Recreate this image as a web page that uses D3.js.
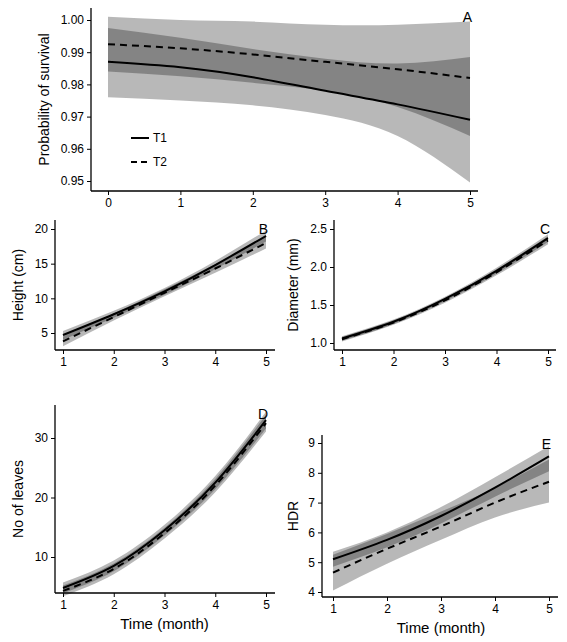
<!DOCTYPE html>
<html><head><meta charset="utf-8">
<script src="https://cdn.jsdelivr.net/npm/d3@7"></script>
<style>body{margin:0;background:#fff}text{font-family:Arial,"Liberation Sans",sans-serif;fill:#000}</style>
</head><body><div id="chart"></div>
<script>
var W = 567, H = 642;

// panel A: survival, months 0..5
var monthsA = [0, 1, 2, 3, 4, 5];
var survT1 = [0.987, 0.9853, 0.9822, 0.978, 0.9738, 0.969];
var survT1lo = [0.976, 0.975, 0.9735, 0.9705, 0.964, 0.9495];
var survT1hi = [0.9975, 0.9945, 0.991, 0.988, 0.9865, 0.9885];
var survT2 = [0.9925, 0.9912, 0.9893, 0.987, 0.9847, 0.982];
var survT2lo = [0.984, 0.9825, 0.9805, 0.978, 0.973, 0.964];
var survT2hi = [1.001, 1.0, 0.9995, 0.9985, 0.9985, 0.9995];

var months = [1, 2, 3, 4, 5];
var hT1 = [4.7, 7.7, 11.0, 14.8, 19.0], hT1lo = [4.0, 7.2, 10.5, 14.2, 18.2], hT1hi = [5.3, 8.2, 11.5, 15.4, 19.8];
var hT2 = [3.8, 7.3, 10.8, 14.3, 18.0], hT2lo = [3.1, 6.8, 10.3, 13.7, 17.2], hT2hi = [4.5, 7.8, 11.3, 14.9, 18.8];
var dT1 = [1.06, 1.28, 1.58, 1.95, 2.38], dT1lo = [1.03, 1.25, 1.55, 1.91, 2.33], dT1hi = [1.09, 1.31, 1.61, 1.99, 2.43];
var dT2 = [1.05, 1.27, 1.56, 1.93, 2.35], dT2lo = [1.02, 1.24, 1.53, 1.89, 2.30], dT2hi = [1.08, 1.30, 1.59, 1.97, 2.40];
var lT1 = [4.8, 8.5, 14.5, 22.5, 33.0], lT1lo = [3.9, 7.6, 13.6, 21.4, 31.6], lT1hi = [5.7, 9.4, 15.4, 23.6, 34.4];
var lT2 = [4.3, 8.0, 14.0, 22.0, 32.5], lT2lo = [3.4, 7.1, 13.1, 20.9, 31.1], lT2hi = [5.2, 8.9, 14.9, 23.1, 33.9];
var eT1 = [5.1, 5.75, 6.55, 7.5, 8.55], eT1lo = [4.85, 5.5, 6.3, 7.2, 8.05], eT1hi = [5.35, 6.0, 6.85, 7.85, 8.9];
var eT2 = [4.65, 5.45, 6.2, 7.0, 7.7], eT2lo = [4.05, 4.95, 5.75, 6.5, 7.0], eT2hi = [5.25, 5.95, 6.7, 7.5, 8.45];

var svg = d3.select("#chart").append("svg").attr("width", W).attr("height", H);

function panel(o) {
  var x = d3.scaleLinear().domain(o.xd).range(o.xr);
  var y = d3.scaleLinear().domain(o.yd).range(o.yr);
  var g = svg.append("g");
  var curve = d3.curveNatural;
  var area = d3.area().curve(curve).x(function(d) { return x(d[0]); })
    .y0(function(d) { return y(d[1]); }).y1(function(d) { return y(d[2]); });
  var line = d3.line().curve(curve).x(function(d) { return x(d[0]); }).y(function(d) { return y(d[1]); });
  o.series.forEach(function(s) {
    g.append("path").attr("d", area(o.xs.map(function(v, i) { return [v, s.lo[i], s.hi[i]]; })))
      .attr("fill", "#000").attr("fill-opacity", 0.28);
  });
  o.series.forEach(function(s, k) {
    g.append("path").attr("d", line(o.xs.map(function(v, i) { return [v, s.v[i]]; })))
      .attr("fill", "none").attr("stroke", "#000").attr("stroke-width", 2)
      .attr("stroke-dasharray", k ? "7,5" : null);
  });
  var xa = g.append("g").attr("transform", "translate(0," + o.axisY + ")")
    .call(d3.axisBottom(x).tickValues(o.xticks).tickFormat(d3.format("d")).tickSize(4).tickSizeOuter(0));
  var ya = g.append("g").attr("transform", "translate(" + o.axisX + ",0)")
    .call(d3.axisLeft(y).tickValues(o.yticks).tickFormat(o.fmt).tickSize(4).tickSizeOuter(0));
  [xa, ya].forEach(function(a) {
    a.selectAll("text").style("font-size", "12px");
    a.select(".domain").attr("stroke-width", 1.3);
  });
  // extend axis lines like ggplot
  xa.select(".domain").attr("d", "M" + o.axisX + ",0H" + o.xEnd);
  ya.select(".domain").attr("d", "M0," + o.yTop + "V" + o.axisY);
  g.append("text").attr("x", o.xr[1] + 2).attr("y", o.yTop + 14).attr("text-anchor", "end")
    .style("font-size", "14px").text(o.tag);
  g.append("text").attr("transform", "translate(" + (o.axisX - o.ylabOff) + "," + ((o.yTop + o.axisY) / 2) + ") rotate(-90)")
    .attr("text-anchor", "middle").style("font-size", "14px").text(o.ylab);
  if (o.xlab) g.append("text").attr("x", (o.xr[0] + o.xr[1]) / 2).attr("y", o.axisY + 36)
    .attr("text-anchor", "middle").style("font-size", "15px").text(o.xlab);
  return { x: x, y: y, g: g };
}

var A = panel({ xd: [0, 5], xr: [108, 470], yd: [0.95, 1.0], yr: [181, 20], xs: monthsA,
  series: [{ v: survT1, lo: survT1lo, hi: survT1hi }, { v: survT2, lo: survT2lo, hi: survT2hi }],
  axisY: 191, axisX: 91, xEnd: 478, yTop: 8, xticks: [0, 1, 2, 3, 4, 5],
  yticks: [0.95, 0.96, 0.97, 0.98, 0.99, 1.0], fmt: d3.format(".2f"), tag: "A", ylab: "Probability of survival", ylabOff: 42 });

// legend
var leg = A.g.append("g").attr("transform", "translate(131,138)");
["T1", "T2"].forEach(function(t, i) {
  leg.append("line").attr("x1", 0).attr("x2", 18).attr("y1", i * 24).attr("y2", i * 24)
    .attr("stroke", "#000").attr("stroke-width", 2).attr("stroke-dasharray", i ? "6,4" : null);
  leg.append("text").attr("x", 22).attr("y", i * 24 + 4).style("font-size", "12px").text(t);
});

panel({ xd: [1, 5], xr: [63, 266], yd: [5, 20], yr: [333, 229], xs: months,
  series: [{ v: hT1, lo: hT1lo, hi: hT1hi }, { v: hT2, lo: hT2lo, hi: hT2hi }],
  axisY: 350, axisX: 55, xEnd: 275, yTop: 220, xticks: months, yticks: [5, 10, 15, 20],
  fmt: d3.format("d"), tag: "B", ylab: "Height (cm)", ylabOff: 32 });

panel({ xd: [1, 5], xr: [342, 548], yd: [1.0, 2.5], yr: [343, 229], xs: months,
  series: [{ v: dT1, lo: dT1lo, hi: dT1hi }, { v: dT2, lo: dT2lo, hi: dT2hi }],
  axisY: 350, axisX: 334, xEnd: 556, yTop: 220, xticks: months, yticks: [1.0, 1.5, 2.0, 2.5],
  fmt: d3.format(".1f"), tag: "C", ylab: "Diameter (mm)", ylabOff: 36 });

panel({ xd: [1, 5], xr: [63, 266], yd: [10, 30], yr: [557, 438], xs: months,
  series: [{ v: lT1, lo: lT1lo, hi: lT1hi }, { v: lT2, lo: lT2lo, hi: lT2hi }],
  axisY: 593, axisX: 55, xEnd: 275, yTop: 405, xticks: months, yticks: [10, 20, 30],
  fmt: d3.format("d"), tag: "D", ylab: "No of leaves", ylabOff: 32, xlab: "Time (month)" });

panel({ xd: [1, 5], xr: [333, 549], yd: [4, 9], yr: [592, 443], xs: months,
  series: [{ v: eT1, lo: eT1lo, hi: eT1hi }, { v: eT2, lo: eT2lo, hi: eT2hi }],
  axisY: 597, axisX: 322, xEnd: 558, yTop: 435, xticks: months, yticks: [4, 5, 6, 7, 8, 9],
  fmt: d3.format("d"), tag: "E", ylab: "HDR", ylabOff: 24, xlab: "Time (month)" });
</script></body></html>
